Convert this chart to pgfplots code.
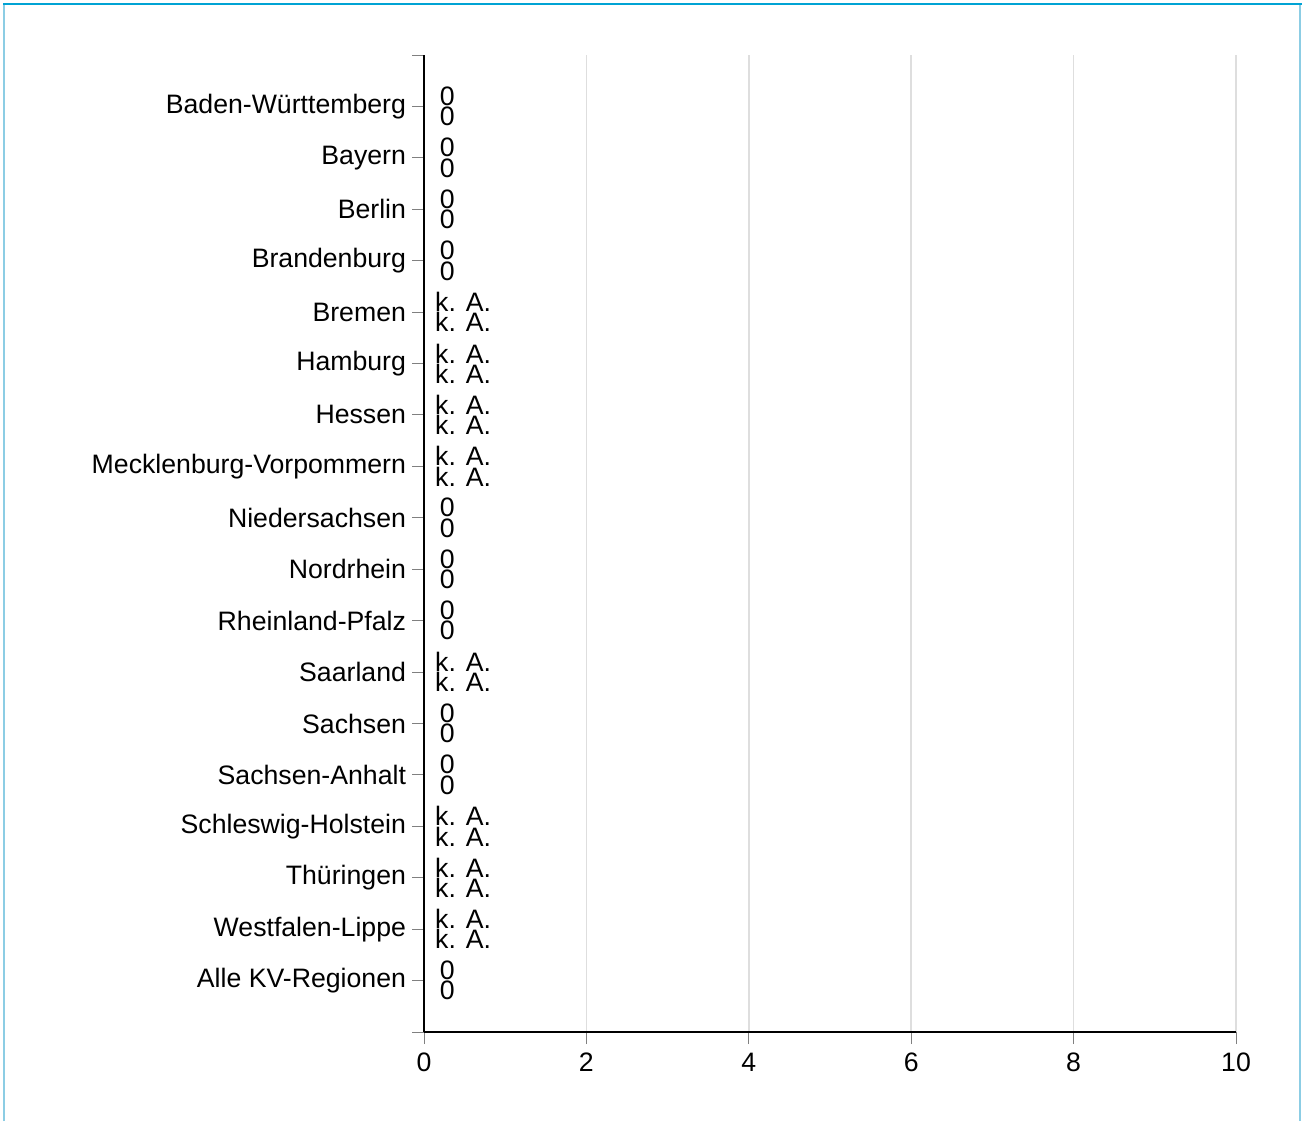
\documentclass[border=0pt]{standalone}
\usepackage{pgfplots}
\pgfplotsset{compat=1.18}
\usepackage{fontspec}
\setmainfont{Liberation Sans}
\definecolor{frametop}{RGB}{0,163,212}
\definecolor{frameside}{RGB}{140,205,228}
\definecolor{gridgray}{RGB}{222,222,222}
\newcommand\zero{\kern3.5pt 0}
\newcommand\ka{k. A.}
\begin{document}
\begin{tikzpicture}
  \useasboundingbox (0,0) rectangle (976.5pt,840.75pt);
  \draw[frameside, line width=0.9pt] (3pt,0) -- (3pt,837.75pt);
  \draw[frameside, line width=0.9pt] (975pt,0) -- (975pt,837.75pt);
  \draw[frametop, line width=1.8pt] (2.5pt,837.75pt) -- (976.5pt,837.75pt);
  \begin{axis}[
    at={(318pt,66.75pt)}, anchor=south west,
    scale only axis,
    width=609pt, height=732.75pt,
    font=\fontsize{20}{24}\selectfont,
    /pgf/number format/assume math mode=true,
    xbar, bar width=0pt,
    xmin=0, xmax=10,
    ymin=-1, ymax=18,
    y dir=reverse,
    axis lines*=left,
    axis line style={black, line width=2pt, -},
    xtick={0,2,4,6,8,10},
    ytick={-1,0,...,18},
    yticklabels={{},Baden-Württemberg,Bayern,Berlin,Brandenburg,Bremen,Hamburg,Hessen,Mecklenburg-Vorpommern,Niedersachsen,Nordrhein,Rheinland-Pfalz,Saarland,Sachsen,Sachsen-Anhalt,Schleswig-Holstein,Thüringen,Westfalen-Lippe,Alle KV-Regionen,{}},
    tick align=outside,
    major tick length=9pt,
    tick style={gray, line width=0.75pt},
    xmajorgrids,
    grid style={gridgray, line width=1.3pt},
    yticklabel style={xshift=-1pt},
    xticklabel style={yshift=-3pt},
    nodes near coords,
    point meta=explicit symbolic,
    every node near coord/.append style={anchor=west, xshift=6.2pt, inner sep=2pt, font=\fontsize{20}{24}\selectfont},
  ]
    % Reihe 1
    \addplot[draw=none, bar shift=-7.6pt] coordinates {
      (0,0) [\zero] (0,1) [\zero] (0,2) [\zero] (0,3) [\zero]
      (0,4) [\ka] (0,5) [\ka] (0,6) [\ka] (0,7) [\ka]
      (0,8) [\zero] (0,9) [\zero] (0,10) [\zero] (0,11) [\ka]
      (0,12) [\zero] (0,13) [\zero] (0,14) [\ka] (0,15) [\ka]
      (0,16) [\ka] (0,17) [\zero]
    };
    % Reihe 2
    \addplot[draw=none, bar shift=7.6pt] coordinates {
      (0,0) [\zero] (0,1) [\zero] (0,2) [\zero] (0,3) [\zero]
      (0,4) [\ka] (0,5) [\ka] (0,6) [\ka] (0,7) [\ka]
      (0,8) [\zero] (0,9) [\zero] (0,10) [\zero] (0,11) [\ka]
      (0,12) [\zero] (0,13) [\zero] (0,14) [\ka] (0,15) [\ka]
      (0,16) [\ka] (0,17) [\zero]
    };
  \end{axis}
\end{tikzpicture}
\end{document}
